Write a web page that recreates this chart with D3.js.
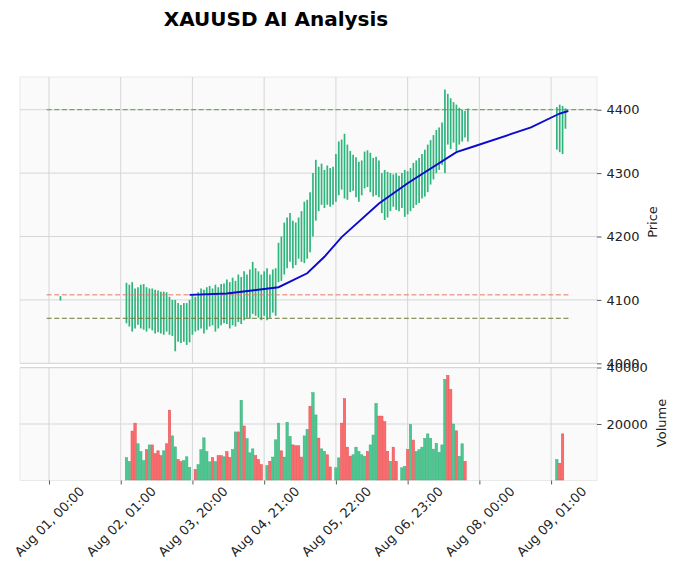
<!DOCTYPE html>
<html><head><meta charset="utf-8">
<script src="https://cdn.jsdelivr.net/npm/d3@7"></script>
<style>body{margin:0;background:#fff;} text{font-family:"DejaVu Sans",sans-serif;}</style>
</head><body><svg id="c" width="679" height="578"></svg>
<script>
// ---------- data ----------
const xTickIdx = [0, 25, 50, 75, 100, 125, 150, 175];
const xTickLabels = ["Aug 01, 00:00","Aug 02, 01:00","Aug 03, 20:00","Aug 04, 21:00","Aug 05, 22:00","Aug 06, 23:00","Aug 08, 00:00","Aug 09, 01:00"];
const priceTicks = [4000, 4100, 4200, 4300, 4400];
const volumeTicks = [20000, 40000];

const mainStart = 27; // bar index of first value below
const highs = [
 4127,4124,4128,4118,4120,4124,4125,4120,4118,4118,4116,4115,4113,4113,4112,4105,4100,4100,4095,4092,4095,4095,4100,
 4108,4105,4112,4118,4116,4120,4122,4118,4124,4120,4125,4126,4132,4128,4135,4130,4140,4136,4145,4140,4148,4160,4150,4145,4140,
 4145,4150,4140,4148,4150,4190,4200,4222,4230,4237,4225,4222,4230,4240,4255,4258,4270,4300,4321,4310,4315,4305,4312,4308,
 4310,4330,4350,4353,4362,4345,4335,4329,4325,4318,4320,4334,4336,4332,4324,4326,4320,4300,4305,4302,4300,4298,4300,4296,
 4300,4305,4303,4308,4316,4320,4324,4330,4337,4345,4352,4360,4368,4372,4380,4432,4425,4418,4412,4408,4403,4400,4398,4402
];
const lows = [
 4063,4058,4050,4055,4061,4055,4053,4050,4055,4052,4047,4049,4047,4045,4050,4045,4043,4019,4034,4032,4034,4029,4033,
 4045,4050,4052,4055,4047,4053,4058,4060,4050,4055,4060,4063,4062,4055,4060,4058,4065,4062,4068,4072,4070,4078,4075,4072,4068,
 4075,4068,4072,4080,4075,4128,4130,4140,4150,4160,4150,4155,4165,4160,4158,4165,4175,4200,4225,4240,4250,4245,4250,4247,
 4250,4255,4265,4274,4260,4258,4270,4272,4262,4255,4265,4276,4278,4270,4263,4265,4262,4237,4226,4230,4240,4247,4242,4240,
 4245,4231,4235,4240,4245,4250,4253,4260,4263,4270,4282,4290,4300,4305,4313,4300,4345,4338,4348,4335,4345,4350,4356,4350
];
const extraIdx = [4, 177, 178, 179, 180];
const extraHigh = [4106, 4404, 4408, 4406, 4402];
const extraLow = [4099, 4337, 4333, 4330, 4370];

const volumes = [
 8100,6700,17500,20300,13000,10200,7000,10900,12600,12600,9500,10500,8800,10500,13000,24900,15800,11900,7400,6700,7000,8400,4600,
 null,
 3900,5600,10900,15100,10200,6600,8100,6700,8800,8800,8400,10200,8100,10900,17200,17200,28400,19300,14800,9800,11200,8800,7400,5600,
 null,
 5300,6800,8300,14400,20300,10500,8300,20600,15600,12600,12300,12300,8300,15800,18100,26300,31100,23200,15000,11200,10300,9100,4800,
 null,
 4500,8000,20300,29000,11800,8600,9100,11800,10300,9100,8600,10300,12600,16100,27300,22800,22800,20800,10300,6800,11800,6800,
 null,
 4500,5000,10900,19800,14300,10300,10900,11800,14900,16500,14900,11100,13200,10000,12600,35800,37200,32200,20000,17600,8600,13000,6800,
 null
];
const volDir = ("ggrrgggrgrrrrgrrggrrggg" + "-" + "rgggggrgrrgrrggrgrgggrrr" + "-" +
  "grgggrgggrrrrggrggrggrr" + "-" + "ggrrrrgggggrgggrrrrgrr" + "-" + "ggrgrgggggggggggrrgrggr" + "-").split("");
const tailVolIdx = [177, 178, 179];
const tailVolumes = [7400, 6100, 16500];
const tailVolDir = ["g", "r", "r"];

const trendIdx = [49, 62, 80, 90, 96, 102, 115, 125, 142, 148, 168, 178, 181];
const trendPrice = [4108, 4110, 4120, 4142, 4168, 4199, 4252, 4284, 4333, 4342, 4372, 4394, 4398];

const levelPrices = [4400, 4108, 4071];
const levelStartIdx = [-0.8, -0.8, -0.8];
const levelEndIdx = [191, 182, 182];

// ---------- layout ----------
const svg = d3.select("#c");
const X0 = 20, X1 = 597;
const P_TOP = 77, P_BOT = 363.3, V_TOP = 368, V_BOT = 480.5;
const x = d3.scaleLinear().domain([-10.1, 191]).range([X0, X1]);
const yP = d3.scaleLinear().domain([4000, 4451.6]).range([P_BOT, P_TOP]);
const yV = d3.scaleLinear().domain([0, 40000]).range([V_BOT, 367.5]);

const gridColor = "#d3d3d3";
const green = "#2fb57c", volUp = "#4dc790", volDown = "#fd6b6c";

// panels
[[P_TOP, P_BOT], [V_TOP, V_BOT]].forEach(([t, b]) => {
  svg.append("rect").attr("x", X0).attr("y", t).attr("width", X1 - X0).attr("height", b - t)
    .attr("fill", "#fafafa").attr("stroke", "#e4e4e4").attr("stroke-width", 0.8);
});

// grids
const grid = svg.append("g").attr("stroke", gridColor).attr("stroke-width", 0.9);
xTickIdx.forEach(i => {
  grid.append("line").attr("x1", x(i)).attr("x2", x(i)).attr("y1", P_TOP).attr("y2", P_BOT);
  grid.append("line").attr("x1", x(i)).attr("x2", x(i)).attr("y1", V_TOP).attr("y2", V_BOT);
});
priceTicks.forEach(p => grid.append("line").attr("x1", X0).attr("x2", X1).attr("y1", yP(p)).attr("y2", yP(p)));
volumeTicks.forEach(v => grid.append("line").attr("x1", X0).attr("x2", X1).attr("y1", yV(v)).attr("y2", yV(v)));

// price bars
const bars = highs.map((h, k) => ({ i: mainStart + k, h, l: lows[k] }))
  .concat(extraIdx.map((i, k) => ({ i, h: extraHigh[k], l: extraLow[k] })));
svg.append("g").selectAll("line").data(bars).join("line")
  .attr("x1", d => x(d.i)).attr("x2", d => x(d.i))
  .attr("y1", d => yP(d.h)).attr("y2", d => yP(d.l))
  .attr("stroke", green).attr("stroke-width", 1.7);

// volume bars
const step = x(1) - x(0);
const vols = volumes.map((v, k) => ({ i: mainStart + k, v, d: volDir[k] }))
  .concat(tailVolIdx.map((i, k) => ({ i, v: tailVolumes[k], d: tailVolDir[k] })))
  .filter(d => d.v != null);
svg.append("g").selectAll("rect").data(vols).join("rect")
  .attr("x", d => x(d.i) - step * 0.42).attr("width", step * 0.84)
  .attr("y", d => yV(d.v)).attr("height", d => V_BOT - 0.5 - yV(d.v))
  .attr("fill", d => d.d === "g" ? volUp : volDown)
  .attr("stroke", d => d.d === "g" ? "#3aae7c" : "#e04e50").attr("stroke-width", 0.5);

// dashed levels
const levelColors = ["#5a9a4e", "#e07a66", "#6b7a36"];
levelPrices.forEach((p, k) => {
  svg.append("line").attr("x1", x(levelStartIdx[k])).attr("x2", x(levelEndIdx[k]))
    .attr("y1", yP(p)).attr("y2", yP(p))
    .attr("stroke", levelColors[k]).attr("stroke-width", 1).attr("stroke-dasharray", "5,2.6");
});

// trend line
svg.append("path").datum(trendIdx.map((i, k) => [i, trendPrice[k]]))
  .attr("d", d3.line().x(d => x(d[0])).y(d => yP(d[1])))
  .attr("fill", "none").attr("stroke", "#0b0bcc").attr("stroke-width", 1.9);

// axes
const styleAxis = g => {
  g.select(".domain").remove();
  g.selectAll(".tick line").attr("stroke", "#333").attr("stroke-width", 0.8);
  g.selectAll(".tick text").attr("fill", "#222").attr("font-size", "13px").attr("font-family", "DejaVu Sans");
};
svg.append("g").attr("transform", `translate(${X1},0)`)
  .call(d3.axisRight(yP).tickValues(priceTicks).tickSize(4.5).tickPadding(5).tickFormat(d3.format("d")))
  .call(styleAxis);
svg.append("g").attr("transform", `translate(${X1},0)`)
  .call(d3.axisRight(yV).tickValues(volumeTicks).tickSize(4.5).tickPadding(5).tickFormat(d3.format("d")))
  .call(styleAxis);
const xa = svg.append("g").attr("transform", `translate(0,${V_BOT})`)
  .call(d3.axisBottom(x).tickValues(xTickIdx).tickSize(4).tickFormat((d, k) => xTickLabels[k]))
  .call(styleAxis);
xa.selectAll(".tick text").attr("y", 0).attr("dy", "0.35em")
  .attr("text-anchor", "middle").attr("transform", "translate(0,41) rotate(-45)");

// labels
svg.append("text").attr("transform", "translate(657,222) rotate(-90)").attr("text-anchor", "middle")
  .attr("font-size", "13px").attr("fill", "#222").text("Price");
svg.append("text").attr("transform", "translate(666,423) rotate(-90)").attr("text-anchor", "middle")
  .attr("font-size", "13px").attr("fill", "#222").text("Volume");
svg.append("text").attr("x", 276).attr("y", 26).attr("text-anchor", "middle")
  .attr("font-size", "20px").attr("font-weight", "bold").attr("fill", "#000").text("XAUUSD AI Analysis");
</script></body></html>
